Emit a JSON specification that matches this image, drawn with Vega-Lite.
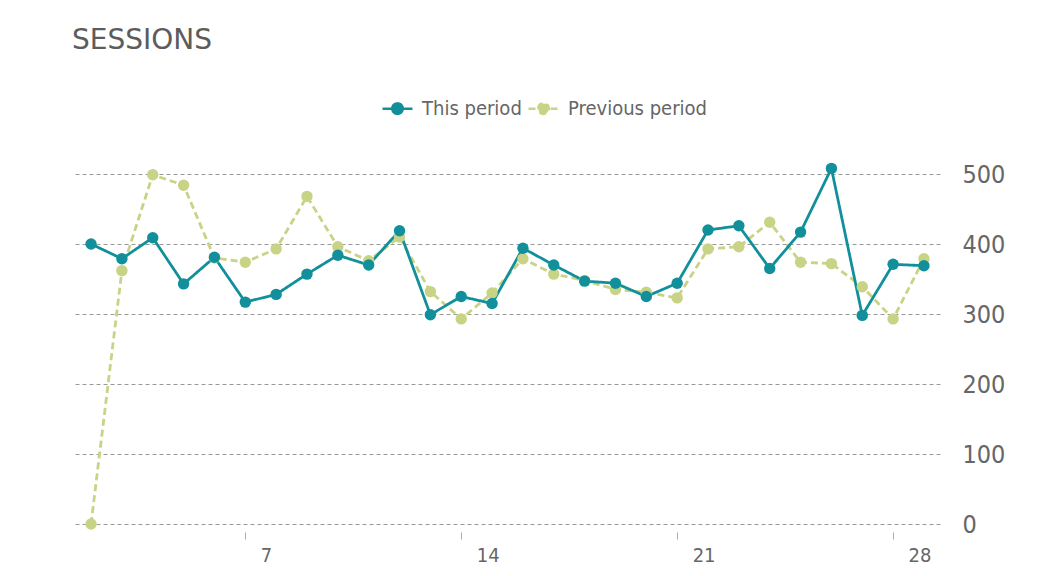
{
  "$schema": "https://vega.github.io/schema/vega-lite/v6.json",
  "width": 865,
  "height": 350,
  "autosize": {"type": "none"},
  "padding": {"left": 75, "top": 174, "right": 119, "bottom": 52},
  "background": "white",
  "title": {
    "text": "SESSIONS",
    "anchor": "start",
    "frame": "group",
    "font": "DejaVu Sans",
    "fontSize": 28,
    "fontWeight": "normal",
    "color": "#5c5c5c",
    "offset": 37,
    "dx": -3
  },
  "data": {
    "values": [
      {"day": 2, "series": "Previous period", "sessions": 0},
      {"day": 3, "series": "Previous period", "sessions": 362},
      {"day": 4, "series": "Previous period", "sessions": 499},
      {"day": 5, "series": "Previous period", "sessions": 484},
      {"day": 6, "series": "Previous period", "sessions": 380},
      {"day": 7, "series": "Previous period", "sessions": 374},
      {"day": 8, "series": "Previous period", "sessions": 393},
      {"day": 9, "series": "Previous period", "sessions": 468},
      {"day": 10, "series": "Previous period", "sessions": 396},
      {"day": 11, "series": "Previous period", "sessions": 376},
      {"day": 12, "series": "Previous period", "sessions": 410},
      {"day": 13, "series": "Previous period", "sessions": 332},
      {"day": 14, "series": "Previous period", "sessions": 293},
      {"day": 15, "series": "Previous period", "sessions": 330},
      {"day": 16, "series": "Previous period", "sessions": 379},
      {"day": 17, "series": "Previous period", "sessions": 357},
      {"day": 18, "series": "Previous period", "sessions": 348},
      {"day": 19, "series": "Previous period", "sessions": 335},
      {"day": 20, "series": "Previous period", "sessions": 331},
      {"day": 21, "series": "Previous period", "sessions": 323},
      {"day": 22, "series": "Previous period", "sessions": 393},
      {"day": 23, "series": "Previous period", "sessions": 396},
      {"day": 24, "series": "Previous period", "sessions": 431},
      {"day": 25, "series": "Previous period", "sessions": 374},
      {"day": 26, "series": "Previous period", "sessions": 372},
      {"day": 27, "series": "Previous period", "sessions": 339},
      {"day": 28, "series": "Previous period", "sessions": 293},
      {"day": 29, "series": "Previous period", "sessions": 379},
      {"day": 2, "series": "This period", "sessions": 400},
      {"day": 3, "series": "This period", "sessions": 379},
      {"day": 4, "series": "This period", "sessions": 409},
      {"day": 5, "series": "This period", "sessions": 343},
      {"day": 6, "series": "This period", "sessions": 381},
      {"day": 7, "series": "This period", "sessions": 317},
      {"day": 8, "series": "This period", "sessions": 328},
      {"day": 9, "series": "This period", "sessions": 357},
      {"day": 10, "series": "This period", "sessions": 384},
      {"day": 11, "series": "This period", "sessions": 370},
      {"day": 12, "series": "This period", "sessions": 419},
      {"day": 13, "series": "This period", "sessions": 299},
      {"day": 14, "series": "This period", "sessions": 325},
      {"day": 15, "series": "This period", "sessions": 315},
      {"day": 16, "series": "This period", "sessions": 394},
      {"day": 17, "series": "This period", "sessions": 370},
      {"day": 18, "series": "This period", "sessions": 347},
      {"day": 19, "series": "This period", "sessions": 344},
      {"day": 20, "series": "This period", "sessions": 325},
      {"day": 21, "series": "This period", "sessions": 344},
      {"day": 22, "series": "This period", "sessions": 420},
      {"day": 23, "series": "This period", "sessions": 426},
      {"day": 24, "series": "This period", "sessions": 365},
      {"day": 25, "series": "This period", "sessions": 417},
      {"day": 26, "series": "This period", "sessions": 508},
      {"day": 27, "series": "This period", "sessions": 298},
      {"day": 28, "series": "This period", "sessions": 371},
      {"day": 29, "series": "This period", "sessions": 369}
    ]
  },
  "encoding": {
    "x": {
      "field": "day",
      "type": "quantitative",
      "scale": {"domain": [1.48, 29.52], "nice": false, "zero": false},
      "axis": {
        "values": [7, 14, 21, 28],
        "title": null,
        "grid": false,
        "domain": false,
        "ticks": true,
        "tickColor": "#aaaaaa",
        "tickSize": 7,
        "offset": 8,
        "labelAlign": "left",
        "labelOffset": 15,
        "labelPadding": 6,
        "labelFont": "DejaVu Sans Condensed, DejaVu Sans",
        "labelFontSize": 20,
        "labelColor": "#666666"
      }
    },
    "y": {
      "field": "sessions",
      "type": "quantitative",
      "scale": {"domain": [0, 500], "nice": false},
      "axis": {
        "orient": "right",
        "values": [0, 100, 200, 300, 400, 500],
        "title": null,
        "grid": true,
        "gridDash": [4, 3],
        "gridColor": "#999999",
        "gridWidth": 1,
        "domain": false,
        "ticks": false,
        "labelPadding": 22,
        "labelFont": "DejaVu Sans Condensed, DejaVu Sans",
        "labelFontSize": 25,
        "labelColor": "#666666"
      }
    },
    "color": {
      "field": "series",
      "type": "nominal",
      "scale": {"domain": ["This period", "Previous period"], "range": ["#11909b", "#c9d386"]},
      "legend": {
        "orient": "none",
        "legendX": 306,
        "legendY": -82,
        "direction": "horizontal",
        "title": null,
        "symbolType": "M-1,0L1,0M-0.35,0A0.35,0.35 0 1,1 0.35,0A0.35,0.35 0 1,1 -0.35,0",
        "symbolSize": 900,
        "symbolStrokeWidth": 2.5,
        "labelFont": "DejaVu Sans Condensed, DejaVu Sans",
        "labelFontSize": 20,
        "labelColor": "#666666",
        "labelOffset": 8,
        "columnPadding": 1,
        "encode": {"symbols": {"update": {"fill": {"scale": "color", "field": "value"}}}}
      }
    },
    "strokeDash": {
      "field": "series",
      "type": "nominal",
      "scale": {"domain": ["This period", "Previous period"], "range": [[1, 0], [7, 4]]},
      "legend": null
    }
  },
  "layer": [
    {"mark": {"type": "line", "strokeWidth": 2.8, "clip": false}},
    {"mark": {"type": "point", "filled": true, "size": 130, "opacity": 1, "strokeDash": [1, 0], "clip": false}}
  ],
  "config": {
    "view": {"stroke": null}
  }
}
